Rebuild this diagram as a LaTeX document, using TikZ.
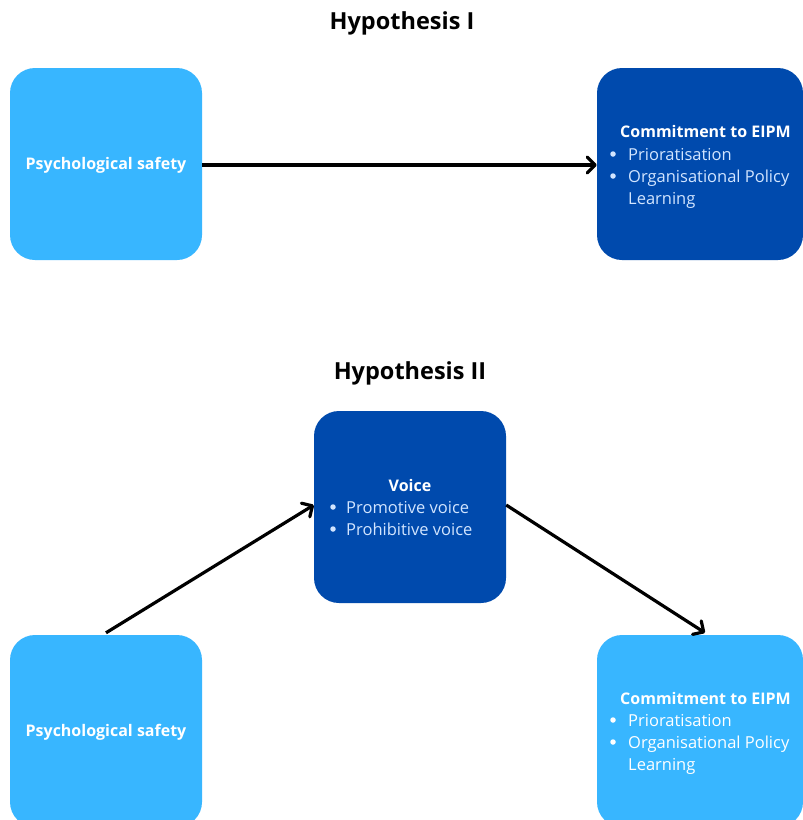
\documentclass[tikz,border=0pt]{standalone}
\usepackage{fontspec}
\setmainfont{Open Sans}
\usetikzlibrary{arrows.meta}
\definecolor{lightbox}{HTML}{38B6FF}
\definecolor{darkbox}{HTML}{004AAD}
\definecolor{palebullet}{HTML}{D2E5FF}
\tikzset{
  boxlight/.style={fill=lightbox, rounded corners=25pt, minimum width=192pt, minimum height=192pt, inner sep=0pt},
  boxdark/.style={fill=darkbox, rounded corners=25pt, minimum width=192pt, minimum height=192pt, inner sep=0pt},
  heading/.style={font=\fontsize{23.5}{28}\selectfont\bfseries, text=black},
  boxtitle/.style={font=\fontsize{16}{19}\selectfont\bfseries, text=white, inner sep=0pt},
  itemtxt/.style={font=\fontsize{16.5}{19}\selectfont, inner sep=0pt, anchor=base west},
  dot/.style={circle, inner sep=0pt, minimum size=5.5pt},
  conn/.style={line width=3.2pt, -{Straight Barb[length=8pt,width=16pt,line width=3.2pt,line cap=round,round]}},
}
\begin{document}
\begin{tikzpicture}[x=1pt,y=-1pt]
\useasboundingbox (0,0) rectangle (803,820);
\fill[white] (0,0) rectangle (803,820);
\clip (0,0) rectangle (803,820);
% Hypothesis I
\node[heading] (h1) at (402,23) {Hypothesis I};
\node[boxlight] (ps1) at (106,164) {};
\node[boxtitle] (ps1t) at (106,165) {Psychological safety};
\node[boxdark, minimum width=206pt] (c1) at (700,164) {};
\node[boxtitle, anchor=base west] (c1t) at (620,137) {Commitment to EIPM};
\node[dot, fill=palebullet] (c1b1) at (613,154) {};
\node[itemtxt, text=palebullet] (c1i1) at (628,160) {Prioratisation};
\node[dot, fill=palebullet] (c1b2) at (613,176) {};
\node[itemtxt, text=palebullet] (c1i2) at (628,182) {Organisational Policy};
\node[itemtxt, text=palebullet] (c1i3) at (628,204) {Learning};
\draw[conn] (ps1.east |- 0,165) -- (c1.west |- 0,165);
% Hypothesis II
\node[heading] (h2) at (410,373) {Hypothesis II};
\node[boxdark] (v) at (410,507) {};
\node[boxtitle] (vt) at (410,485) {Voice};
\node[dot, fill=palebullet] (vb1) at (333,507) {};
\node[itemtxt, text=palebullet] (vi1) at (346,513) {Promotive voice};
\node[dot, fill=palebullet] (vb2) at (333,529) {};
\node[itemtxt, text=palebullet] (vi2) at (346,535) {Prohibitive voice};
\node[boxlight] (ps2) at (106,731) {};
\node[boxtitle] (ps2t) at (106,732) {Psychological safety};
\node[boxlight, minimum width=206pt] (c2) at (700,731) {};
\node[boxtitle, anchor=base west] (c2t) at (620,704) {Commitment to EIPM};
\node[dot, fill=white] (c2b1) at (613,720) {};
\node[itemtxt, text=white] (c2i1) at (628,726) {Prioratisation};
\node[dot, fill=white] (c2b2) at (613,742) {};
\node[itemtxt, text=white] (c2i2) at (628,748) {Organisational Policy};
\node[itemtxt, text=white] (c2i3) at (628,770) {Learning};
\draw[conn] ([yshift=2pt]ps2.north) -- ([yshift=2pt]v.west);
\draw[conn] ([yshift=2pt]v.east) -- ([xshift=5pt,yshift=2pt]c2.north);
\end{tikzpicture}
\end{document}
